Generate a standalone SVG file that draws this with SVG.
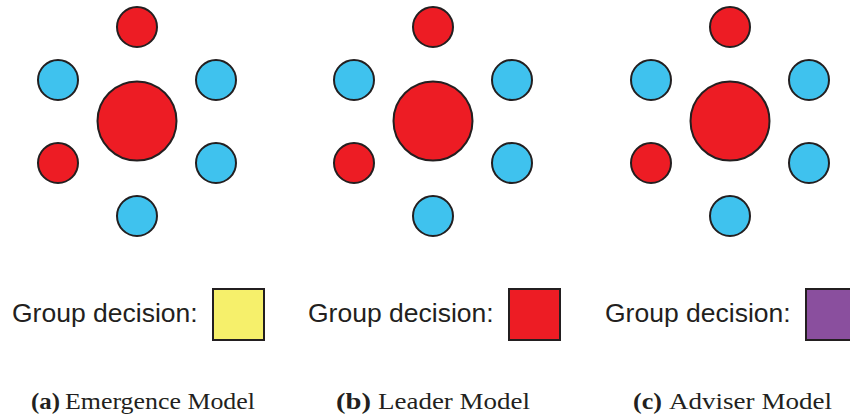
<svg xmlns="http://www.w3.org/2000/svg" width="850" height="415" viewBox="0 0 850 415">
<style>
.n{stroke:#231f20;stroke-width:2}
.r{fill:#ed1c24}
.b{fill:#3fc2ee}
.lbl{font-family:"Liberation Sans",Arial,sans-serif;font-size:26.5px;fill:#231f20}
.cap{font-family:"Liberation Serif","Times New Roman",serif;font-size:23.5px;fill:#231f20}
.bold{font-weight:bold}
.box{stroke:#231f20;stroke-width:2}
</style>
<defs>
<g id="cluster">
<circle class="n r" cx="137" cy="27" r="20"/>
<circle class="n b" cx="58" cy="80" r="20"/>
<circle class="n b" cx="216" cy="80" r="20"/>
<circle class="n r" cx="137" cy="121" r="39.5"/>
<circle class="n r" cx="58" cy="163" r="20"/>
<circle class="n b" cx="216" cy="163" r="20"/>
<circle class="n b" cx="137" cy="216" r="20"/>
</g>
</defs>
<g id="panel-a">
<use href="#cluster"/>
<text class="lbl" x="12" y="322">Group decision:</text>
<rect class="box" x="213" y="289" width="51" height="51" fill="#f6f06b"/>
<text class="cap bold" x="31" y="409" textLength="29" lengthAdjust="spacingAndGlyphs">(a)</text>
<text class="cap" x="65" y="409" textLength="190" lengthAdjust="spacingAndGlyphs">Emergence Model</text>
</g>
<g id="panel-b">
<use href="#cluster" transform="translate(296,0)"/>
<text class="lbl" x="308" y="322">Group decision:</text>
<rect class="box" x="509" y="289" width="51" height="51" fill="#ed1c24"/>
<text class="cap bold" x="336" y="409" textLength="35" lengthAdjust="spacingAndGlyphs">(b)</text>
<text class="cap" x="378" y="409" textLength="152" lengthAdjust="spacingAndGlyphs">Leader Model</text>
</g>
<g id="panel-c">
<use href="#cluster" transform="translate(593,0)"/>
<text class="lbl" x="605" y="322">Group decision:</text>
<rect class="box" x="806" y="289" width="51" height="51" fill="#8a4f9e"/>
<text class="cap bold" x="633" y="409" textLength="29" lengthAdjust="spacingAndGlyphs">(c)</text>
<text class="cap" x="669" y="409" textLength="163" lengthAdjust="spacingAndGlyphs">Adviser Model</text>
</g>
<g id="connectors"></g>
</svg>
